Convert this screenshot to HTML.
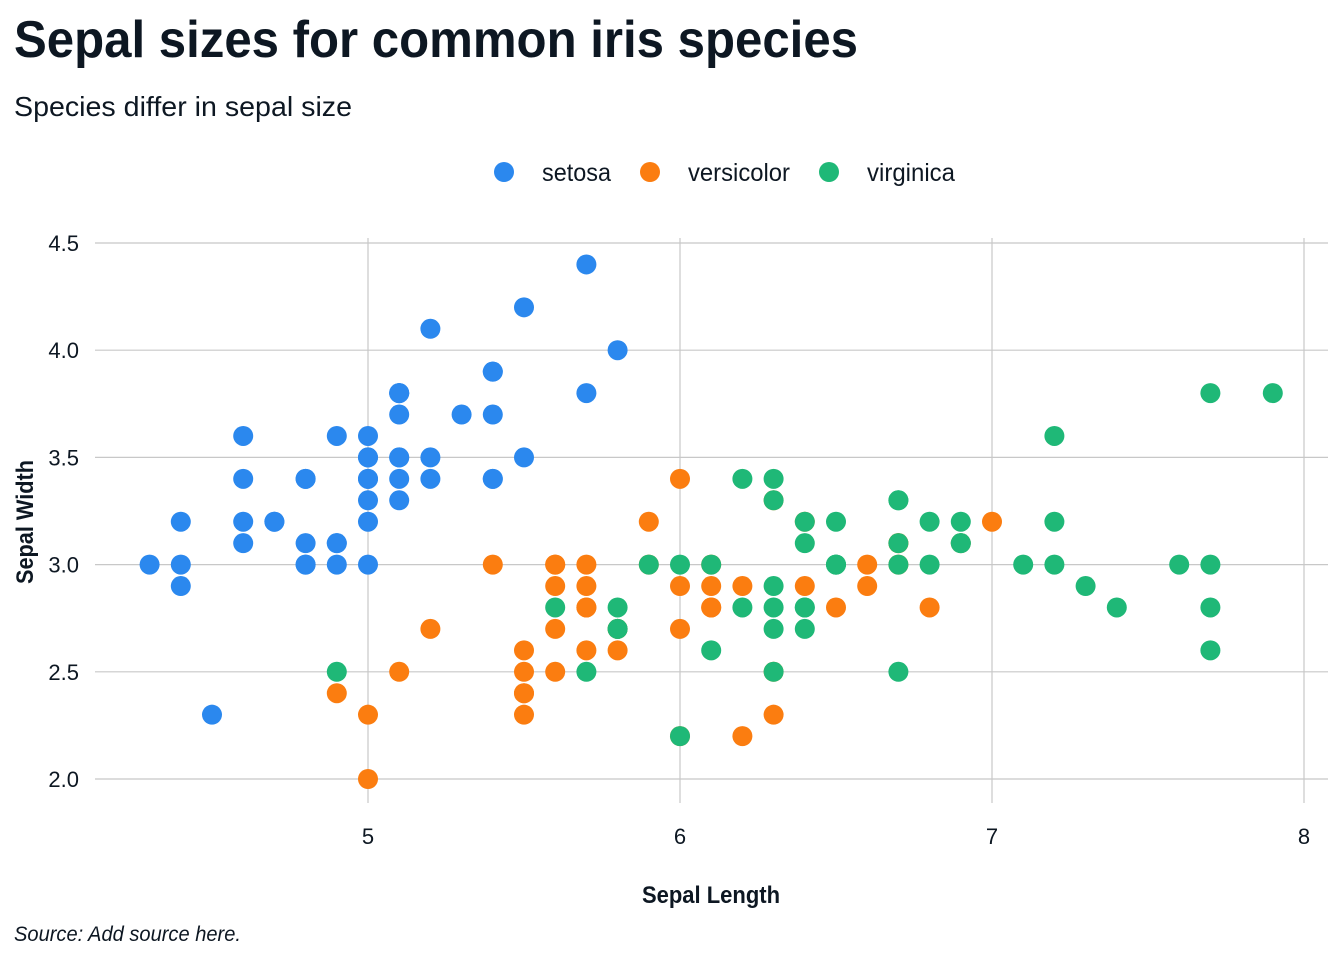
<!DOCTYPE html>
<html><head><meta charset="utf-8"><style>
body{margin:0;background:#fff;}
svg{display:block;font-family:"Liberation Sans Narrow","Liberation Sans",sans-serif;}
</style></head><body>
<svg id="chart" width="1344" height="960" xmlns="http://www.w3.org/2000/svg">
<text x="14" y="57" font-size="52" font-weight="bold" fill="#0d1722" textLength="844" lengthAdjust="spacingAndGlyphs">Sepal sizes for common iris species</text>
<text x="14" y="116" font-size="28" fill="#0d1722" textLength="338" lengthAdjust="spacingAndGlyphs">Species differ in sepal size</text>
<text x="14" y="941" font-size="21" font-style="italic" fill="#0d1722" textLength="227" lengthAdjust="spacingAndGlyphs">Source: Add source here.</text>
<g id="grid"></g>
<g id="legend"></g>
<g id="points"></g>
<text x="642" y="903" font-size="24" font-weight="bold" fill="#0d1722" textLength="138" lengthAdjust="spacingAndGlyphs">Sepal Length</text>
<text transform="translate(33,584) rotate(-90)" font-size="24" font-weight="bold" fill="#0d1722" textLength="124" lengthAdjust="spacingAndGlyphs">Sepal Width</text>
</svg>
<script>
const species = ["setosa","versicolor","virginica"];
const colors = ["#2b88ee","#fb7d10","#1fb877"];
const xTicks = [5,6,7,8];
const yTicks = [2.0,2.5,3.0,3.5,4.0,4.5];
const setosaLen = [5.1,4.9,4.7,4.6,5.0,5.4,4.6,5.0,4.4,4.9,5.4,4.8,4.8,4.3,5.8,5.7,5.4,5.1,5.7,5.1,5.4,5.1,4.6,5.1,4.8,5.0,5.0,5.2,5.2,4.7,4.8,5.4,5.2,5.5,4.9,5.0,5.5,4.9,4.4,5.1,5.0,4.5,4.4,5.0,5.1,4.8,5.1,4.6,5.3,5.0];
const setosaWid = [3.5,3.0,3.2,3.1,3.6,3.9,3.4,3.4,2.9,3.1,3.7,3.4,3.0,3.0,4.0,4.4,3.9,3.5,3.8,3.8,3.4,3.7,3.6,3.3,3.4,3.0,3.4,3.5,3.4,3.2,3.1,3.4,4.1,4.2,3.1,3.2,3.5,3.6,3.0,3.4,3.5,2.3,3.2,3.5,3.8,3.0,3.8,3.2,3.7,3.3];
const versLen = [7.0,6.4,6.9,5.5,6.5,5.7,6.3,4.9,6.6,5.2,5.0,5.9,6.0,6.1,5.6,6.7,5.6,5.8,6.2,5.6,5.9,6.1,6.3,6.1,6.4,6.6,6.8,6.7,6.0,5.7,5.5,5.5,5.8,6.0,5.4,6.0,6.7,6.3,5.6,5.5,5.5,6.1,5.8,5.0,5.6,5.7,5.7,6.2,5.1,5.7];
const versWid = [3.2,3.2,3.1,2.3,2.8,2.8,3.3,2.4,2.9,2.7,2.0,3.0,2.2,2.9,2.9,3.1,3.0,2.7,2.2,2.5,3.2,2.8,2.5,2.8,2.9,3.0,2.8,3.0,2.9,2.6,2.4,2.4,2.7,2.7,3.0,3.4,3.1,2.3,3.0,2.5,2.6,3.0,2.6,2.3,2.7,3.0,2.9,2.9,2.5,2.8];
const virgLen = [6.3,5.8,7.1,6.3,6.5,7.6,4.9,7.3,6.7,7.2,6.5,6.4,6.8,5.7,5.8,6.4,6.5,7.7,7.7,6.0,6.9,5.6,7.7,6.3,6.7,7.2,6.2,6.1,6.4,7.2,7.4,7.9,6.4,6.3,6.1,7.7,6.3,6.4,6.0,6.9,6.7,6.9,5.8,6.8,6.7,6.7,6.3,6.5,6.2,5.9];
const virgWid = [3.3,2.7,3.0,2.9,3.0,3.0,2.5,2.9,2.5,3.6,3.2,2.7,3.0,2.5,2.8,3.2,3.0,3.8,2.6,2.2,3.2,2.8,2.8,2.7,3.3,3.2,2.8,3.0,2.8,3.0,2.8,3.8,2.8,2.8,2.6,3.0,3.4,3.1,3.0,3.1,3.1,3.1,2.7,3.2,3.3,3.0,2.5,3.0,3.4,3.0];

const NS="http://www.w3.org/2000/svg";
const xs = v => 368 + (v-5)*312;
const ys = v => 779 - (v-2)*214.4;
function mk(tag, attrs, parent){const e=document.createElementNS(NS,tag);for(const k in attrs)e.setAttribute(k,attrs[k]);parent.appendChild(e);return e;}
const grid=document.getElementById('grid');
yTicks.forEach(t=>{
  const l=mk('line',{x1:95,x2:1328,y1:ys(t),y2:ys(t),stroke:'#c8c8c8','stroke-width':1.2},grid);
  
  
  const tx=mk('text',{x:79,y:ys(t)+8,'font-size':22,'text-anchor':'end',fill:'#0d1722'},grid);
  tx.textContent=t.toFixed(1);
  
  
});
xTicks.forEach(t=>{
  const l=mk('line',{x1:xs(t),x2:xs(t),y1:238,y2:803,stroke:'#c8c8c8','stroke-width':1.2},grid);
  
  
  const tx=mk('text',{x:xs(t),y:844,'font-size':22,'text-anchor':'middle',fill:'#0d1722'},grid);
  tx.textContent=String(t);
  
  
});
const lg=document.getElementById('legend');
const legX=[504,650,829];
const legW=[69,102,88];
species.forEach((s,i)=>{
  const c=mk('circle',{cx:legX[i],cy:172,r:10,fill:colors[i]},lg);
  
  
  const t=mk('text',{x:legX[i]+38,y:181,'font-size':25,fill:'#0d1722',textLength:legW[i],lengthAdjust:'spacingAndGlyphs'},lg);
  t.textContent=s;
  
  
});
const pts=document.getElementById('points');
const series=[[setosaLen,setosaWid],[versLen,versWid],[virgLen,virgWid]];
series.forEach((sr,i)=>{
  sr[0].forEach((x,j)=>{
    const c=mk('circle',{cx:xs(x),cy:ys(sr[1][j]),r:10,fill:colors[i]},pts);
    
    
  });
});
</script>
</body></html>
